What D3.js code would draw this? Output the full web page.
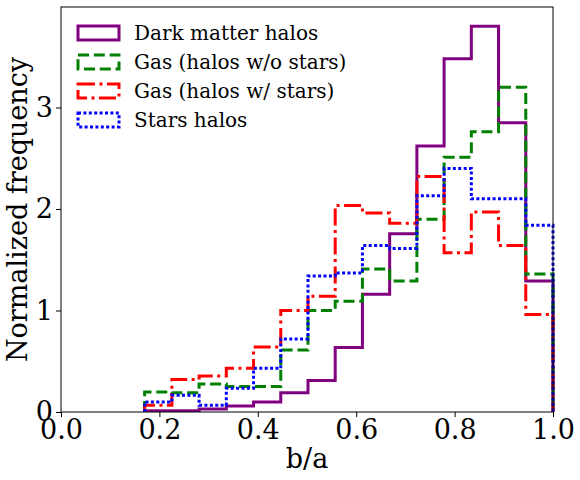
<!DOCTYPE html>
<html>
<head>
<meta charset="utf-8">
<script src="https://cdn.jsdelivr.net/npm/d3@7"></script>
<style>
  html, body { margin: 0; padding: 0; background: #fff; }
  svg { display: block; }
  text { font-family: "DejaVu Serif", serif; fill: #000; }
</style>
</head>
<body>
<div id="chart"></div>
<script>
// ---- data ----
const binStart = 0.17;
const binEnd = 1.0;
const nBins = 15;
const seriesNames = ["Dark matter halos", "Gas (halos w/o stars)", "Gas (halos w/ stars)", "Stars halos"];
const darkMatter = [0.013, 0.013, 0.03, 0.06, 0.098, 0.19, 0.31, 0.636, 1.16, 1.757, 2.62, 3.48, 3.80, 2.85, 1.29];
const gasNoStars = [0.197, 0.19, 0.275, 0.25, 0.25, 0.61, 1.0, 1.09, 1.41, 1.29, 1.90, 2.51, 2.76, 3.20, 1.36];
const gasStars   = [0.066, 0.32, 0.354, 0.43, 0.64, 1.0, 1.14, 2.035, 1.96, 1.86, 2.32, 1.57, 1.97, 1.64, 0.96];
const starsHalos = [0.098, 0.164, 0.066, 0.233, 0.43, 0.72, 1.34, 1.37, 1.64, 1.61, 2.13, 2.40, 2.10, 2.10, 1.84];
const xTicks = [0.0, 0.2, 0.4, 0.6, 0.8, 1.0];
const yTicks = [0, 1, 2, 3];

const seriesValues = [darkMatter, gasNoStars, gasStars, starsHalos];
const colors = ["#800080", "#008000", "#ff0000", "#0000ff"];
const dashes = [null, "11,4.8", "17,4.5,3,4.5", "3,2.4"];

// ---- layout ----
const W = 580, H = 480;
const m = { left: 61, right: 27, top: 7, bottom: 68 };

const svg = d3.select("#chart").append("svg").attr("width", W).attr("height", H);

const x = d3.scaleLinear().domain([0, 1]).range([m.left, W - m.right]);
const yMax = 3.80 * 1.05;
const y = d3.scaleLinear().domain([0, yMax]).range([H - m.bottom, m.top]);

const binW = (binEnd - binStart) / nBins;
const edges = d3.range(nBins + 1).map(i => binStart + i * binW);

function stepPoints(vals) {
  const pts = [[edges[0], 0]];
  vals.forEach((v, i) => { pts.push([edges[i], v]); pts.push([edges[i + 1], v]); });
  pts.push([edges[nBins], 0]);
  return pts;
}

const line = d3.line().x(d => x(d[0])).y(d => y(d[1]));

const defs = svg.append("defs");
defs.append("clipPath").attr("id", "clip").append("rect")
  .attr("x", m.left).attr("y", m.top - 2)
  .attr("width", W - m.left - m.right + 2).attr("height", H - m.top - m.bottom + 2);

const plot = svg.append("g").attr("clip-path", "url(#clip)");
seriesValues.forEach((vals, i) => {
  plot.append("path")
    .attr("d", line(stepPoints(vals)))
    .attr("fill", "none")
    .attr("stroke", colors[i])
    .attr("stroke-width", 3)
    .attr("stroke-linejoin", "miter")
    .attr("stroke-linecap", "butt")
    .attr("stroke-dasharray", dashes[i]);
});

// frame
svg.append("rect")
  .attr("x", m.left).attr("y", m.top)
  .attr("width", W - m.left - m.right).attr("height", H - m.top - m.bottom)
  .attr("fill", "none").attr("stroke", "#000").attr("stroke-width", 1);

// axes
const xAxis = d3.axisBottom(x).tickValues(xTicks).tickFormat(d3.format(".1f")).tickSize(5).tickPadding(3);
const gx = svg.append("g").attr("transform", `translate(0,${H - m.bottom})`).call(xAxis);
gx.select(".domain").remove();
gx.selectAll("text").attr("font-size", 27).attr("font-family", "DejaVu Serif").attr("fill", "#000");
gx.selectAll("line").attr("stroke", "#000");

const yAxis = d3.axisLeft(y).tickValues(yTicks).tickFormat(d3.format("d")).tickSize(5).tickPadding(3);
const gy = svg.append("g").attr("transform", `translate(${m.left},0)`).call(yAxis);
gy.select(".domain").remove();
gy.selectAll("text").attr("font-size", 27).attr("font-family", "DejaVu Serif").attr("fill", "#000");
gy.selectAll("line").attr("stroke", "#000");

// axis labels
svg.append("text")
  .attr("x", (x(0) + x(1)) / 2).attr("y", 468)
  .attr("text-anchor", "middle").attr("font-size", 27).text("b/a");
svg.append("text")
  .attr("transform", `translate(27,${(y(0) + y(yMax)) / 2}) rotate(-90)`)
  .attr("text-anchor", "middle").attr("font-size", 27).text("Normalized frequency");

// legend
const leg = svg.append("g");
seriesNames.forEach((name, i) => {
  const cy = 33 + i * 29;
  leg.append("rect")
    .attr("x", 78).attr("y", cy - 7).attr("width", 41).attr("height", 14)
    .attr("fill", "none").attr("stroke", colors[i]).attr("stroke-width", 3)
    .attr("stroke-dasharray", dashes[i]);
  leg.append("text")
    .attr("x", 134).attr("y", cy + 7)
    .attr("font-size", 20).text(name);
});
</script>
</body>
</html>
